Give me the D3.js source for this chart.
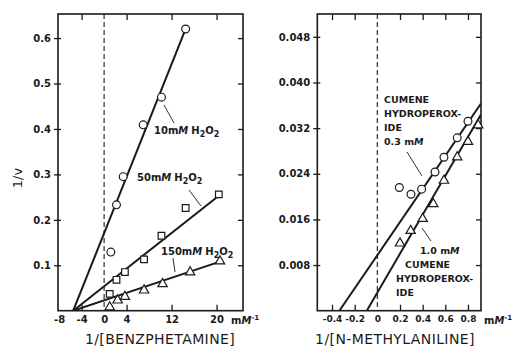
<!DOCTYPE html>
<html>
<head>
<meta charset="utf-8">
<script src="https://cdn.jsdelivr.net/npm/d3@7"></script>
<style>
  body { margin: 0; background: #fff; }
  text { font-family: "DejaVu Sans", sans-serif; fill: #1a1a1a; }
</style>
</head>
<body>
<script>
// left panel: 1/v vs 1/[benzphetamine], three H2O2 levels
const benzX10 = [1.2, 2.2, 3.4, 6.95, 10.2, 14.5];
const benzY10 = [0.129, 0.233, 0.295, 0.409, 0.470, 0.620];
const benzX50 = [1.0, 2.2, 3.7, 7.1, 10.2, 14.5, 20.4];
const benzY50 = [0.037, 0.068, 0.085, 0.113, 0.165, 0.226, 0.256];
const benzX150 = [1.0, 2.4, 3.7, 7.1, 10.4, 15.3, 20.6];
const benzY150 = [0.009, 0.024, 0.032, 0.046, 0.060, 0.086, 0.110];
const benzFits = [
  [[-5.5, 0], [14.5, 0.62]],
  [[-5.5, 0], [20.4, 0.253]],
  [[-5.5, 0], [20.6, 0.108]]
];
const benzXTicks = [-4, 4, 12, 20];
const benzXLabels = [-8, -4, 0, 4, 12, 20];
const benzYTicks = [0.1, 0.2, 0.3, 0.4, 0.5, 0.6];
const benzYLabels = ["0.1", "0.2", "0.3", "0.4", "0.5", "0.6"];

// right panel: 1/v vs 1/[N-methylaniline], two cumene hydroperoxide levels
const nmaX03 = [0.194, 0.297, 0.391, 0.509, 0.588, 0.705, 0.80];
const nmaY03 = [0.0216, 0.0204, 0.0213, 0.0243, 0.0269, 0.0303, 0.0332];
const nmaX10 = [0.20, 0.294, 0.40, 0.494, 0.588, 0.705, 0.80, 0.89];
const nmaY10 = [0.0119, 0.0141, 0.0162, 0.0188, 0.0229, 0.0270, 0.0297, 0.0326];
const nmaFits = [
  [[-0.335, 0], [0.915, 0.0363]],
  [[-0.093, 0], [0.915, 0.0344]]
];
const nmaXTicks = [-0.4, -0.2, 0.2, 0.4, 0.6, 0.8];
const nmaXLabels = [-0.4, -0.2, 0, 0.2, 0.4, 0.6, 0.8];
const nmaYTicks = [0.008, 0.016, 0.024, 0.032, 0.040, 0.048];
const nmaYLabels = ["0.008", "0.016", "0.024", "0.032", "0.040", "0.048"];

const ink = "#1a1a1a";
const plotTop = 14, plotBottom = 310.7;

const svg = d3.select("body").append("svg")
  .attr("width", 517).attr("height", 349);

const xL = d3.scaleLinear().domain([-8.2, 24.7]).range([58, 243]);
const yL = d3.scaleLinear().domain([0, 0.653]).range([plotBottom, plotTop]);
const xR = d3.scaleLinear().domain([-0.53, 0.915]).range([317.3, 481]);
const yR = d3.scaleLinear().domain([0, 0.052]).range([plotBottom, plotTop]);

function panel(x, y, id, xTicks, xLabels, yTicks, yLabels, xFontSize) {
  const [x0, x1] = x.range();
  const g = svg.append("g");

  g.append("clipPath").attr("id", id)
    .append("rect").attr("x", x0).attr("y", plotTop)
    .attr("width", x1 - x0).attr("height", plotBottom - plotTop);

  // dashed zero line
  g.append("line")
    .attr("x1", x(0)).attr("x2", x(0))
    .attr("y1", plotTop).attr("y2", plotBottom)
    .attr("stroke", ink).attr("stroke-width", 1.1)
    .attr("stroke-dasharray", "5,3");

  // left axis with labels, ticks crossing the frame
  g.append("g").attr("transform", `translate(${x0},0)`)
    .call(d3.axisLeft(y).tickValues(yTicks).tickSize(4).tickPadding(3)
      .tickFormat((d, i) => yLabels[i]));
  g.append("g").attr("transform", `translate(${x0},0)`)
    .call(d3.axisRight(y).tickValues(yTicks).tickSize(3).tickFormat(""));
  g.append("g").attr("transform", `translate(${x1},0)`)
    .call(d3.axisLeft(y).tickValues(yTicks).tickSize(5).tickFormat(""));
  g.append("g").attr("transform", `translate(0,${plotTop})`)
    .call(d3.axisBottom(x).tickValues(xTicks).tickSize(6).tickFormat(""));
  g.append("g").attr("transform", `translate(0,${plotBottom})`)
    .call(d3.axisTop(x).tickValues(xTicks).tickSize(6).tickFormat(""));
  const xa = g.append("g").attr("transform", `translate(0,${plotBottom})`)
    .call(d3.axisBottom(x).tickValues(xLabels).tickSize(0).tickPadding(5)
      .tickFormat(d => String(d)));

  g.selectAll(".domain").remove();
  g.selectAll(".tick line").attr("stroke", ink).attr("stroke-width", 1.3);
  g.selectAll(".tick text").attr("font-size", 10).attr("fill", ink)
    .attr("font-weight", "bold").attr("font-family", "DejaVu Sans");
  xa.selectAll(".tick text").attr("font-size", xFontSize);

  g.append("rect")
    .attr("x", x0).attr("y", plotTop)
    .attr("width", x1 - x0).attr("height", plotBottom - plotTop)
    .attr("fill", "none").attr("stroke", ink).attr("stroke-width", 1.6);

  return g;
}

function fitLines(g, x, y, id, fits) {
  g.append("g").attr("clip-path", `url(#${id})`)
    .selectAll("line").data(fits).join("line")
    .attr("x1", d => x(d[0][0])).attr("y1", d => y(d[0][1]))
    .attr("x2", d => x(d[1][0])).attr("y2", d => y(d[1][1]))
    .attr("stroke", ink).attr("stroke-width", 2);
}

function points(g, x, y, xs, ys, shape) {
  const sym = d3.symbol().type(shape.type).size(shape.size);
  g.append("g").selectAll("path").data(xs.map((v, i) => [v, ys[i]])).join("path")
    .attr("transform", d => `translate(${x(d[0])},${y(d[1]) + (shape.dy || 0)})`)
    .attr("d", sym)
    .attr("fill", "#fff").attr("stroke", ink).attr("stroke-width", 1.2);
}

const circle = { type: d3.symbolCircle, size: 48 };
const square = { type: d3.symbolSquare, size: 44 };
const triangle = { type: d3.symbolTriangle, size: 38, dy: 0.5 };

// ---- left panel
const gL = panel(xL, yL, "clipL", benzXTicks, benzXLabels, benzYTicks, benzYLabels, 10);
fitLines(gL, xL, yL, "clipL", benzFits);
points(gL, xL, yL, benzX10, benzY10, circle);
points(gL, xL, yL, benzX50, benzY50, square);
points(gL, xL, yL, benzX150, benzY150, triangle);

function h2o2(g, x, y, conc) {
  const t = g.append("text").attr("x", x).attr("y", y)
    .attr("font-size", 10).attr("font-weight", "bold");
  t.append("tspan").text(conc + "m");
  t.append("tspan").attr("font-style", "italic").text("M");
  t.append("tspan").attr("dx", 3).text("H");
  t.append("tspan").attr("dy", 3).attr("font-size", 8).text("2");
  t.append("tspan").attr("dy", -3).text("O");
  t.append("tspan").attr("dy", 3).attr("font-size", 8).text("2");
}
h2o2(gL, 154, 134, "10");
h2o2(gL, 137, 181, "50");
h2o2(gL, 161, 255, "150");

const leader = (g, a, b) => g.append("line")
  .attr("x1", a[0]).attr("y1", a[1]).attr("x2", b[0]).attr("y2", b[1])
  .attr("stroke", ink).attr("stroke-width", 0.9);
leader(gL, [164, 105], [174, 123]);
leader(gL, [189, 190], [201, 206]);
leader(gL, [173, 258], [175, 272]);

const unitL = gL.append("text").attr("x", 231).attr("y", 324)
  .attr("font-size", 10).attr("font-weight", "bold");
unitL.append("tspan").text("m");
unitL.append("tspan").attr("font-style", "italic").text("M");
unitL.append("tspan").attr("dy", -4).attr("font-size", 7).text("-1");

gL.append("text").attr("x", 160).attr("y", 344).attr("text-anchor", "middle")
  .attr("font-size", 14).attr("letter-spacing", 0.4).text("1/[BENZPHETAMINE]");
gL.append("text").attr("transform", "translate(22,178) rotate(-90)")
  .attr("text-anchor", "middle").attr("font-size", 13).text("1/v");

// ---- right panel
const gR = panel(xR, yR, "clipR", nmaXTicks, nmaXLabels, nmaYTicks, nmaYLabels, 9);
fitLines(gR, xR, yR, "clipR", nmaFits);
points(gR, xR, yR, nmaX03, nmaY03, circle);
points(gR, xR, yR, nmaX10, nmaY10, triangle);

function block(g, x, y, lines) {
  lines.forEach((l, i) => {
    const t = g.append("text").attr("x", x[i] ?? x[0]).attr("y", y + i * 14)
      .attr("font-size", 9.5).attr("font-weight", "bold");
    if (l.endsWith("mM")) {
      t.append("tspan").text(l.slice(0, -1));
      t.append("tspan").attr("font-style", "italic").text("M");
    } else {
      t.text(l);
    }
  });
}
block(gR, [384], 103, ["CUMENE", "HYDROPEROX-", "IDE", "0.3 mM"]);
block(gR, [420, 405, 396, 396], 254, ["1.0 mM", "CUMENE", "HYDROPEROX-", "IDE"]);
leader(gR, [407, 152], [422, 176]);
leader(gR, [422, 228], [431, 241]);

const unitR = gR.append("text").attr("x", 484).attr("y", 324)
  .attr("font-size", 10).attr("font-weight", "bold");
unitR.append("tspan").text("m");
unitR.append("tspan").attr("font-style", "italic").text("M");
unitR.append("tspan").attr("dy", -4).attr("font-size", 7).text("-1");

gR.append("text").attr("x", 395).attr("y", 344).attr("text-anchor", "middle")
  .attr("font-size", 14).attr("letter-spacing", 0.4).text("1/[N-METHYLANILINE]");
</script>
</body>
</html>
